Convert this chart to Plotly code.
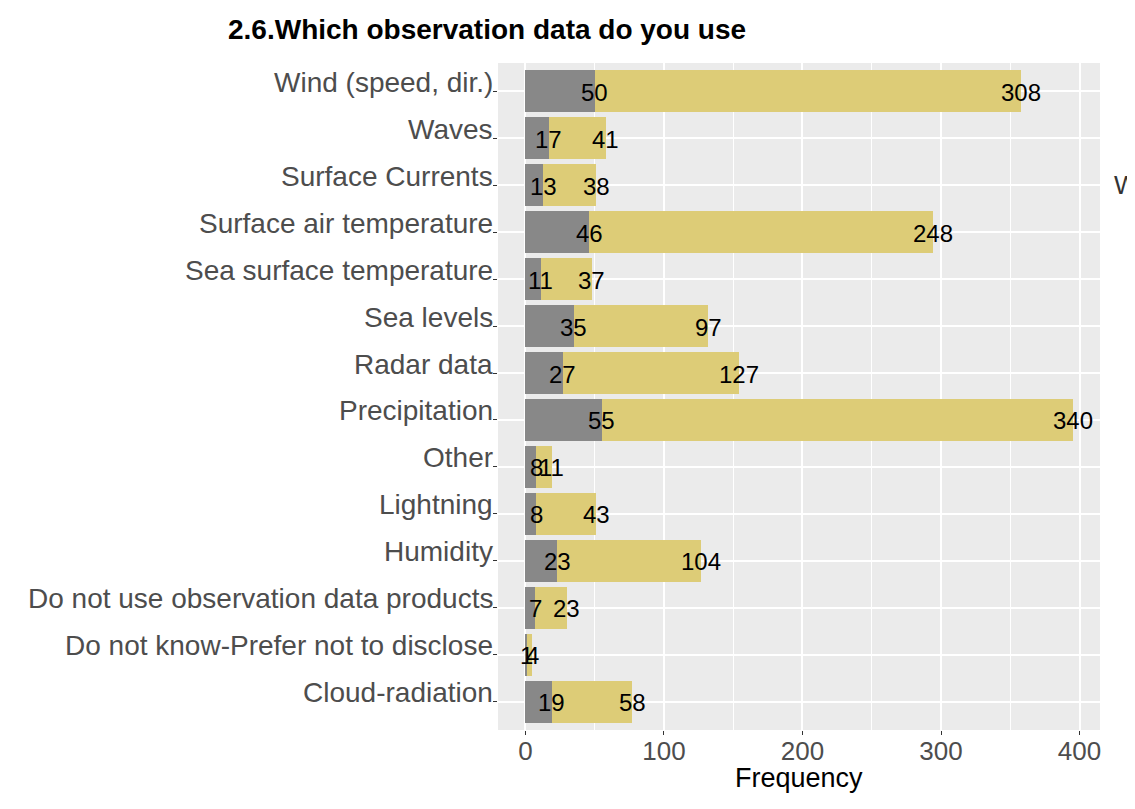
import plotly.graph_objects as go

categorias = ["Cloud-radiation", "Do not know-Prefer not to disclose", "Do not use observation data products",
              "Humidity", "Lightning", "Other", "Precipitation", "Radar data", "Sea levels",
              "Sea surface temperature", "Surface air temperature", "Surface Currents", "Waves",
              "Wind (speed, dir.)"]
cinza = [19, 1, 7, 23, 8, 8, 55, 27, 35, 11, 46, 13, 17, 50]
amarelo = [58, 4, 23, 104, 43, 11, 340, 127, 97, 37, 248, 38, 41, 308]

fonte = "Liberation Sans, Arial, sans-serif"
y_idx = list(range(len(categorias)))
total = [c + a for c, a in zip(cinza, amarelo)]

fig = go.Figure()
fig.add_trace(go.Bar(y=y_idx, x=cinza, orientation="h", width=0.9,
                     marker=dict(color="#888888", line=dict(width=0)), showlegend=False))
fig.add_trace(go.Bar(y=y_idx, x=amarelo, orientation="h", width=0.9,
                     marker=dict(color="#DDCC77", line=dict(width=0)), showlegend=False))

fig.update_layout(
    barmode="stack",
    width=1127, height=801,
    margin=dict(l=490, r=35, t=55, b=79),
    paper_bgcolor="white", plot_bgcolor="#EBEBEB",
    font=dict(family=fonte, color="#4D4D4D"),
    title=dict(text="<b>2.6.Which observation data do you use</b>", x=220 / 1127, xanchor="left",
               y=1 - 21 / 801, yanchor="middle", font=dict(size=28, color="black", family=fonte)),
    xaxis=dict(range=[-19.75, 414.75], tickvals=[0, 100, 200, 300, 400], showgrid=True,
               gridcolor="white", gridwidth=1.6, zeroline=False, ticks="outside", ticklen=4,
               tickcolor="#333333", tickfont=dict(size=26, color="#4D4D4D"), ticklabelstandoff=-6,
               minor=dict(tickvals=[50, 150, 250, 350], showgrid=True, gridcolor="white", gridwidth=0.7)),
    yaxis=dict(range=[-0.6, 13.6], tickvals=y_idx, ticktext=[""] * len(categorias), showgrid=True,
               gridcolor="white", gridwidth=1.6, zeroline=False, ticks="outside", ticklen=4,
               tickcolor="#333333"),
)
# rotulos no fim de cada pedaco
for i in y_idx:
    for xv, lab in ((cinza[i], cinza[i]), (total[i], amarelo[i])):
        fig.add_annotation(text=str(lab), x=xv, y=i, xref="x", yref="y", xanchor="center",
                           yanchor="middle", yshift=-1, showarrow=False,
                           font=dict(size=24, color="black", family=fonte))
# nomes das categorias um pouco acima do centro, como no original
for i, nome in zip(y_idx, categorias):
    fig.add_annotation(text=nome, x=0, y=i, xref="paper", yref="y", xanchor="right", yanchor="middle",
                       xshift=-3, yshift=9, showarrow=False,
                       font=dict(size=28, color="#4D4D4D", family=fonte))
fig.add_annotation(text="Frequency", x=0.5, y=0, xref="paper", yref="paper", xanchor="center",
                   yanchor="middle", yshift=-48, showarrow=False,
                   font=dict(size=27, color="black", family=fonte))
fig.add_annotation(text="W", x=1.02, y=0.817, xref="paper", yref="paper",
                   xanchor="left", yanchor="middle", showarrow=False,
                   font=dict(size=26, color="#333333", family=fonte))

fig.write_html("out.html")
